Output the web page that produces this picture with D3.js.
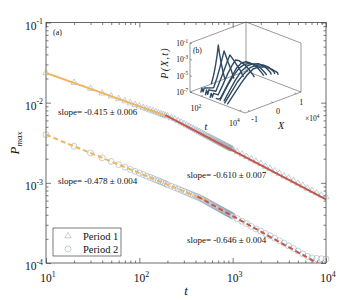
<!DOCTYPE html>
<html>
<head>
<meta charset="utf-8">
<script src="https://cdn.jsdelivr.net/npm/d3@7"></script>
<style>
body { margin: 0; background: #fff; }
text { font-family: "Liberation Serif", "Times New Roman", serif; fill: #111; }
</style>
</head>
<body>
<script>

// sampling times (shared by both periods)
var times = [10, 20, 30, 40, 50, 60, 70, 80, 90, 100, 110, 120, 130, 140, 150, 160, 170, 180, 190, 200,
	220, 240, 260, 280, 300, 320, 340, 360, 380, 400, 420, 440, 460, 480, 500, 520, 540, 560, 580, 600,
	620, 640, 660, 680, 700, 720, 740, 760, 780, 800, 820, 840, 860, 880, 900, 920, 940, 960, 980, 1000,
	1120, 1260, 1410, 1580, 1780, 2000, 2240, 2510, 2820, 3160, 3550, 3980, 4470, 5010, 5620, 6310, 7080, 7940, 8910, 10000];

// P_max, period 1 (triangles)
var period1 = [0.0235, 0.0178, 0.0150, 0.0131, 0.01205, 0.01117, 0.01048, 0.00991, 0.00944, 0.00904,
	0.00869, 0.00838, 0.00810, 0.00786, 0.00764, 0.00744, 0.00725, 0.00708, 0.00692, 0.00678,
	0.00645, 0.00622, 0.00594, 0.00568, 0.00545, 0.00524, 0.00505, 0.00488, 0.00472, 0.00457,
	0.00444, 0.00432, 0.00420, 0.00409, 0.00399, 0.00389, 0.00381, 0.00373, 0.00365, 0.00357,
	0.00350, 0.00343, 0.00337, 0.00331, 0.00325, 0.00319, 0.00314, 0.00309, 0.00304, 0.00300,
	0.00296, 0.00290, 0.00286, 0.00283, 0.00279, 0.00275, 0.00272, 0.00268, 0.00265, 0.00262,
	0.00243, 0.00227, 0.00212, 0.00198, 0.00185, 0.00173, 0.00160, 0.00151, 0.00140, 0.00131,
	0.00121, 0.00115, 0.00106, 0.000985, 0.000925, 0.000850, 0.000800, 0.000745, 0.000700, 0.000665];

// P_max, period 2 (circles)
var period2 = [0.00398, 0.00286, 0.00236, 0.00205, 0.00185, 0.00169, 0.00157, 0.00147, 0.00139, 0.00132,
	0.00127, 0.00121, 0.00117, 0.00113, 0.00109, 0.00106, 0.00103, 0.00100, 0.000974, 0.000951,
	0.000908, 0.000872, 0.000839, 0.000810, 0.000783, 0.000760, 0.000738, 0.000718, 0.000700, 0.000683,
	0.000667, 0.000652, 0.000636, 0.000619, 0.000603, 0.000588, 0.000574, 0.000560, 0.000548, 0.000536,
	0.000525, 0.000514, 0.000504, 0.000494, 0.000485, 0.000476, 0.000468, 0.000460, 0.000452, 0.000445,
	0.000438, 0.000431, 0.000425, 0.000419, 0.000413, 0.000407, 0.000401, 0.000396, 0.000390, 0.000385,
	0.000358, 0.000332, 0.000309, 0.000287, 0.000266, 0.000250, 0.000234, 0.000219, 0.000204, 0.000190,
	0.000177, 0.000164, 0.000152, 0.000141, 0.000130, 0.000121, 0.000116, 0.000114, 0.000113, 0.000112];

// power law fits: start time, end time, value at start, slope
var fitStart = [10, 190, 10, 420];
var fitEnd = [220, 10000, 520, 10000];
var fitValue = [0.0235, 0.0070, 0.00398, 0.000675];
var fitSlope = [-0.415, -0.610, -0.478, -0.646];
var fitLabels = ["slope= -0.415 \u00b1 0.006", "slope= -0.610 \u00b1 0.007",
	"slope= -0.478 \u00b1 0.004", "slope= -0.646 \u00b1 0.004"];

var xTickExp = [1, 2, 3, 4];
var yTickExp = [-1, -2, -3, -4];
var legendLabels = ["Period 1", "Period 2"];

// inset (b): P(X,t) slices, X in units of 1e4, values as log10 P
var insetTimes = [28, 56, 112, 224, 447, 630, 891, 1260, 1778];
var insetX = [
	[-0.3, -0.2, -0.12, -0.05, 0, 0.05, 0.12, 0.2, 0.28],
	[-1.0, -0.95, -0.9, -0.85, -0.45, -0.3, -0.18, -0.08, 0, 0.08, 0.18, 0.3, 0.42],
	[-1.05, -1.0, -0.95, -0.9, -0.6, -0.42, -0.25, -0.1, 0, 0.1, 0.25, 0.42, 0.58],
	[-1.1, -1.05, -1.0, -0.95, -0.75, -0.55, -0.35, -0.15, 0, 0.15, 0.35, 0.55, 0.75, 0.8],
	[-1.1, -1.0, -0.9, -0.65, -0.4, -0.2, 0, 0.2, 0.4, 0.65, 0.9, 0.95],
	[-1.05, -0.9, -0.7, -0.45, -0.22, 0, 0.22, 0.45, 0.7, 0.9, 0.96],
	[-1.0, -0.75, -0.5, -0.25, 0, 0.25, 0.5, 0.75, 1.0, 1.03],
	[-1.1, -0.85, -0.55, -0.28, 0, 0.28, 0.55, 0.8, 1.02, 1.06],
	[-1.1, -0.8, -0.5, -0.25, 0, 0.25, 0.5, 0.8, 1.05, 1.08]
];
var insetLogP = [
	[-7, -6.0, -4.9, -3.7, -2.52, -3.6, -4.8, -6.0, -7],
	[-7, -6.5, -7, -6.6, -7, -5.9, -4.8, -3.8, -2.97, -3.7, -4.6, -5.6, -6.8],
	[-7, -6.4, -7, -6.5, -7, -5.9, -4.8, -3.8, -3.19, -3.7, -4.5, -5.4, -6.5],
	[-7, -6.5, -7, -6.6, -7, -6.0, -4.9, -4.0, -3.54, -3.8, -4.4, -5.2, -6.2, -6.5],
	[-6.8, -7, -7, -5.9, -4.8, -4.0, -3.63, -3.7, -4.1, -4.8, -5.9, -6.2],
	[-7, -6.3, -5.4, -4.5, -3.9, -3.68, -3.8, -4.2, -4.9, -5.7, -6.0],
	[-7, -5.9, -4.9, -4.1, -3.73, -3.75, -4.0, -4.6, -5.6, -5.9],
	[-7, -6.1, -5.0, -4.3, -3.8, -3.8, -4.05, -4.6, -5.4, -5.7],
	[-7, -6.0, -5.0, -4.3, -3.83, -3.85, -4.1, -4.7, -5.4, -5.7]
];
var insetZTicks = [-1, -3, -5, -7];
var insetTTicks = [100, 10000];
var insetXTicks = [-1, 0, 1];

window.onload = function() {
	drawChart();
};

function drawChart() {

	var orange = "#edb65f";
	var red = "#c4584a";
	var markColor = "#7d92a8";
	var navy = "#2c4a63";
	var frameColor = "#444";

	var plotLeft = 46, plotRight = 326, plotTop = 22.5, plotBottom = 263;

	var svg = d3.select("body").append("svg")
		.attr("width", 360)
		.attr("height", 300);

	var x = d3.scaleLog().domain([10, 10000]).range([plotLeft, plotRight]);
	var y = d3.scaleLog().domain([1e-4, 1e-1]).range([plotBottom, plotTop]);

	// minor tick values
	var minorX = [], minorY = [];
	for (var e = 1; e < 4; e++) {
		for (var m = 2; m < 10; m++) minorX.push(m * Math.pow(10, e));
	}
	for (var e = -4; e < -1; e++) {
		for (var m = 2; m < 10; m++) minorY.push(m * Math.pow(10, e));
	}
	var majorX = xTickExp.map(function(d) { return Math.pow(10, d); });
	var majorY = yTickExp.map(function(d) { return Math.pow(10, d); });

	function tickAxis(axis, values, size, transform) {
		var g = svg.append("g")
			.attr("transform", transform)
			.call(axis.tickValues(values).tickSize(size).tickFormat(""));
		g.select(".domain").remove();
		g.selectAll("line").attr("stroke", frameColor).attr("stroke-width", 0.7);
	}

	// ticks on all four sides, pointing inwards
	tickAxis(d3.axisBottom(x), majorX, -5, "translate(0," + plotBottom + ")");
	tickAxis(d3.axisBottom(x), minorX, -2.5, "translate(0," + plotBottom + ")");
	tickAxis(d3.axisTop(x), majorX, -5, "translate(0," + plotTop + ")");
	tickAxis(d3.axisTop(x), minorX, -2.5, "translate(0," + plotTop + ")");
	tickAxis(d3.axisLeft(y), majorY, -5, "translate(" + plotLeft + ",0)");
	tickAxis(d3.axisLeft(y), minorY, -2.5, "translate(" + plotLeft + ",0)");
	tickAxis(d3.axisRight(y), majorY, -5, "translate(" + plotRight + ",0)");
	tickAxis(d3.axisRight(y), minorY, -2.5, "translate(" + plotRight + ",0)");

	svg.append("rect")
		.attr("x", plotLeft).attr("y", plotTop)
		.attr("width", plotRight - plotLeft).attr("height", plotBottom - plotTop)
		.attr("fill", "none")
		.attr("stroke", frameColor)
		.attr("stroke-width", 0.8);

	// power of ten label with superscript
	function powLabel(sel, exp, size) {
		sel.append("tspan").text("10");
		sel.append("tspan")
			.attr("dy", -size * 0.45)
			.attr("font-size", size * 0.68)
			.text(exp < 0 ? "-" + (-exp) : exp);
	}

	xTickExp.forEach(function(d) {
		svg.append("text")
			.attr("x", x(Math.pow(10, d)) + 2)
			.attr("y", 282)
			.attr("text-anchor", "middle")
			.attr("font-size", 11.5)
			.call(powLabel, d, 11.5);
	});

	yTickExp.forEach(function(d) {
		svg.append("text")
			.attr("x", 43)
			.attr("y", y(Math.pow(10, d)) + 7)
			.attr("text-anchor", "end")
			.attr("font-size", 11.5)
			.call(powLabel, d, 11.5);
	});

	// axis titles
	svg.append("text")
		.attr("x", 186).attr("y", 295)
		.attr("text-anchor", "middle")
		.attr("font-size", 13)
		.attr("font-style", "italic")
		.text("t");

	var ylab = svg.append("text")
		.attr("transform", "translate(19,143) rotate(-90)")
		.attr("text-anchor", "middle")
		.attr("font-size", 13)
		.attr("font-style", "italic");
	ylab.append("tspan").text("P");
	ylab.append("tspan").attr("dy", 3).attr("font-size", 9).text("max");

	svg.append("text")
		.attr("x", 53).attr("y", 35)
		.attr("font-family", "Liberation Sans, Arial, sans-serif")
		.attr("font-size", 8)
		.text("(a)");

	// data points
	var triangle = d3.symbol().type(d3.symbolTriangle).size(17);

	svg.append("g").selectAll("path")
		.data(times.map(function(t, i) { return [t, period1[i]]; }))
		.enter().append("path")
		.attr("d", triangle)
		.attr("transform", function(d) { return "translate(" + x(d[0]) + "," + y(d[1]) + ")"; })
		.attr("fill", "none")
		.attr("stroke", markColor)
		.attr("stroke-opacity", 0.55)
		.attr("stroke-width", 0.8);

	svg.append("g").selectAll("circle")
		.data(times.map(function(t, i) { return [t, period2[i]]; }))
		.enter().append("circle")
		.attr("cx", function(d) { return x(d[0]); })
		.attr("cy", function(d) { return y(d[1]); })
		.attr("r", 3)
		.attr("fill", "none")
		.attr("stroke", markColor)
		.attr("stroke-opacity", 0.55)
		.attr("stroke-width", 0.8);

	// fitted lines, clipped to the frame
	svg.append("clipPath").attr("id", "frame")
		.append("rect")
		.attr("x", plotLeft).attr("y", plotTop)
		.attr("width", plotRight - plotLeft).attr("height", plotBottom - plotTop);

	var fitColors = [orange, red, orange, red];
	var fitDash = [null, null, "5,3", "5,3"];
	var line = d3.line()
		.x(function(d) { return x(d[0]); })
		.y(function(d) { return y(d[1]); });

	fitStart.forEach(function(t0, i) {
		var t1 = fitEnd[i];
		var p1 = fitValue[i] * Math.pow(t1 / t0, fitSlope[i]);
		svg.append("path")
			.attr("clip-path", "url(#frame)")
			.attr("d", line([[t0, fitValue[i]], [t1, p1]]))
			.attr("fill", "none")
			.attr("stroke", fitColors[i])
			.attr("stroke-width", 2)
			.attr("stroke-dasharray", fitDash[i]);
	});

	var labelPos = [[58, 114.5], [187, 177.5], [58, 184], [187, 243]];
	fitLabels.forEach(function(d, i) {
		svg.append("text")
			.attr("x", labelPos[i][0])
			.attr("y", labelPos[i][1])
			.attr("font-size", 9)
			.text(d);
	});

	// legend
	var legend = svg.append("g");
	legend.append("rect")
		.attr("x", 53).attr("y", 228)
		.attr("width", 68).attr("height", 28)
		.attr("fill", "#fff")
		.attr("stroke", frameColor)
		.attr("stroke-width", 0.7);

	legend.append("path")
		.attr("d", triangle)
		.attr("transform", "translate(68,236)")
		.attr("fill", "none")
		.attr("stroke", markColor)
		.attr("stroke-opacity", 0.55)
		.attr("stroke-width", 0.8);
	legend.append("circle")
		.attr("cx", 68).attr("cy", 249).attr("r", 3)
		.attr("fill", "none")
		.attr("stroke", markColor)
		.attr("stroke-opacity", 0.55)
		.attr("stroke-width", 0.8);

	legend.selectAll(".lab")
		.data(legendLabels)
		.enter().append("text")
		.attr("class", "lab")
		.attr("x", 83)
		.attr("y", function(d, i) { return 240 + i * 13; })
		.attr("font-size", 10.5)
		.text(function(d) { return d; });

	// ---- inset (b): 3d view of P(X,t) ----
	var sX = d3.scaleLinear().domain([-1.2, 1.2]).range([0, 1]);
	var sT = d3.scaleLog().domain([27, 19500]).range([0, 1]);
	var sZ = d3.scaleLinear().domain([-7, -1]).range([0, 1]);
	var origin = [190, 92], tVec = [55, 21], xVec = [56, -21], zLen = 49;

	function project(xv, tv, zv) {
		var a = sT(tv), b = sX(xv), c = sZ(zv);
		return [origin[0] + a * tVec[0] + b * xVec[0], origin[1] + a * tVec[1] + b * xVec[1] - c * zLen];
	}

	var inset = svg.append("g");
	var xMin = -1.2, xMax = 1.2, tMin = 27, tMax = 19500, zMin = -7, zMax = -1;

	// box edges of the back planes and the two front axes
	var edges = [
		[[xMin, tMin, zMin], [xMin, tMin, zMax]],
		[[xMax, tMin, zMin], [xMax, tMin, zMax]],
		[[xMax, tMax, zMin], [xMax, tMax, zMax]],
		[[xMin, tMin, zMax], [xMax, tMin, zMax]],
		[[xMax, tMin, zMax], [xMax, tMax, zMax]],
		[[xMin, tMin, zMin], [xMax, tMin, zMin]],
		[[xMax, tMin, zMin], [xMax, tMax, zMin]],
		[[xMin, tMin, zMin], [xMin, tMax, zMin]],
		[[xMin, tMax, zMin], [xMax, tMax, zMin]]
	];
	var pline = d3.line();
	edges.forEach(function(e) {
		inset.append("path")
			.attr("d", pline(e.map(function(p) { return project(p[0], p[1], p[2]); })))
			.attr("stroke", "#555")
			.attr("stroke-width", 0.6)
			.attr("fill", "none");
	});

	// slices
	insetTimes.forEach(function(tv, i) {
		var pts = insetX[i].map(function(xv, j) { return project(xv, tv, insetLogP[i][j]); });
		inset.append("path")
			.attr("d", pline(pts))
			.attr("fill", "none")
			.attr("stroke", navy)
			.attr("stroke-width", 1.4)
			.attr("stroke-linejoin", "round");
	});

	// inset ticks and labels
	insetZTicks.forEach(function(z) {
		var p = project(xMin, tMin, z);
		inset.append("line")
			.attr("x1", p[0]).attr("y1", p[1])
			.attr("x2", p[0] + 2).attr("y2", p[1] + 0.8)
			.attr("stroke", "#555").attr("stroke-width", 0.6);
		inset.append("text")
			.attr("x", p[0] - 2)
			.attr("y", p[1] + 3)
			.attr("text-anchor", "end")
			.attr("font-size", 7.5)
			.call(powLabel, z, 7.5);
	});

	insetTTicks.forEach(function(tv) {
		var p = project(xMin, tv, zMin);
		inset.append("line")
			.attr("x1", p[0]).attr("y1", p[1])
			.attr("x2", p[0] + 1.8).attr("y2", p[1] - 0.7)
			.attr("stroke", "#555").attr("stroke-width", 0.6);
		inset.append("text")
			.attr("x", p[0] - 5)
			.attr("y", p[1] + 15)
			.attr("text-anchor", "middle")
			.attr("font-size", 8)
			.call(powLabel, Math.log10(tv), 8);
	});

	insetXTicks.forEach(function(xv) {
		var p = project(xv, tMax, zMin);
		inset.append("line")
			.attr("x1", p[0]).attr("y1", p[1])
			.attr("x2", p[0] - 1.8).attr("y2", p[1] - 0.7)
			.attr("stroke", "#555").attr("stroke-width", 0.6);
		inset.append("text")
			.attr("x", p[0] + 5)
			.attr("y", p[1] + 11)
			.attr("text-anchor", "middle")
			.attr("font-size", 8)
			.text(xv < 0 ? "-" + (-xv) : xv);
	});

	var xscale = inset.append("text")
		.attr("x", 305).attr("y", 121)
		.attr("font-size", 7.5);
	xscale.append("tspan").text("\u00d7");
	xscale.append("tspan").text("10");
	xscale.append("tspan").attr("dy", -3.4).attr("font-size", 5.2).text("4");

	inset.append("text")
		.attr("x", 206).attr("y", 130)
		.attr("text-anchor", "middle")
		.attr("font-size", 10)
		.attr("font-style", "italic")
		.text("t");

	inset.append("text")
		.attr("x", 281).attr("y", 129)
		.attr("text-anchor", "middle")
		.attr("font-size", 10)
		.attr("font-style", "italic")
		.text("X");

	inset.append("text")
		.attr("transform", "translate(168,63) rotate(-90)")
		.attr("text-anchor", "middle")
		.attr("font-size", 10)
		.attr("font-style", "italic")
		.attr("letter-spacing", 1.2)
		.text("P(X,t)");

	inset.append("text")
		.attr("x", 193).attr("y", 53)
		.attr("font-family", "Liberation Sans, Arial, sans-serif")
		.attr("font-size", 7.5)
		.text("(b)");
}

</script>
</body>
</html>
